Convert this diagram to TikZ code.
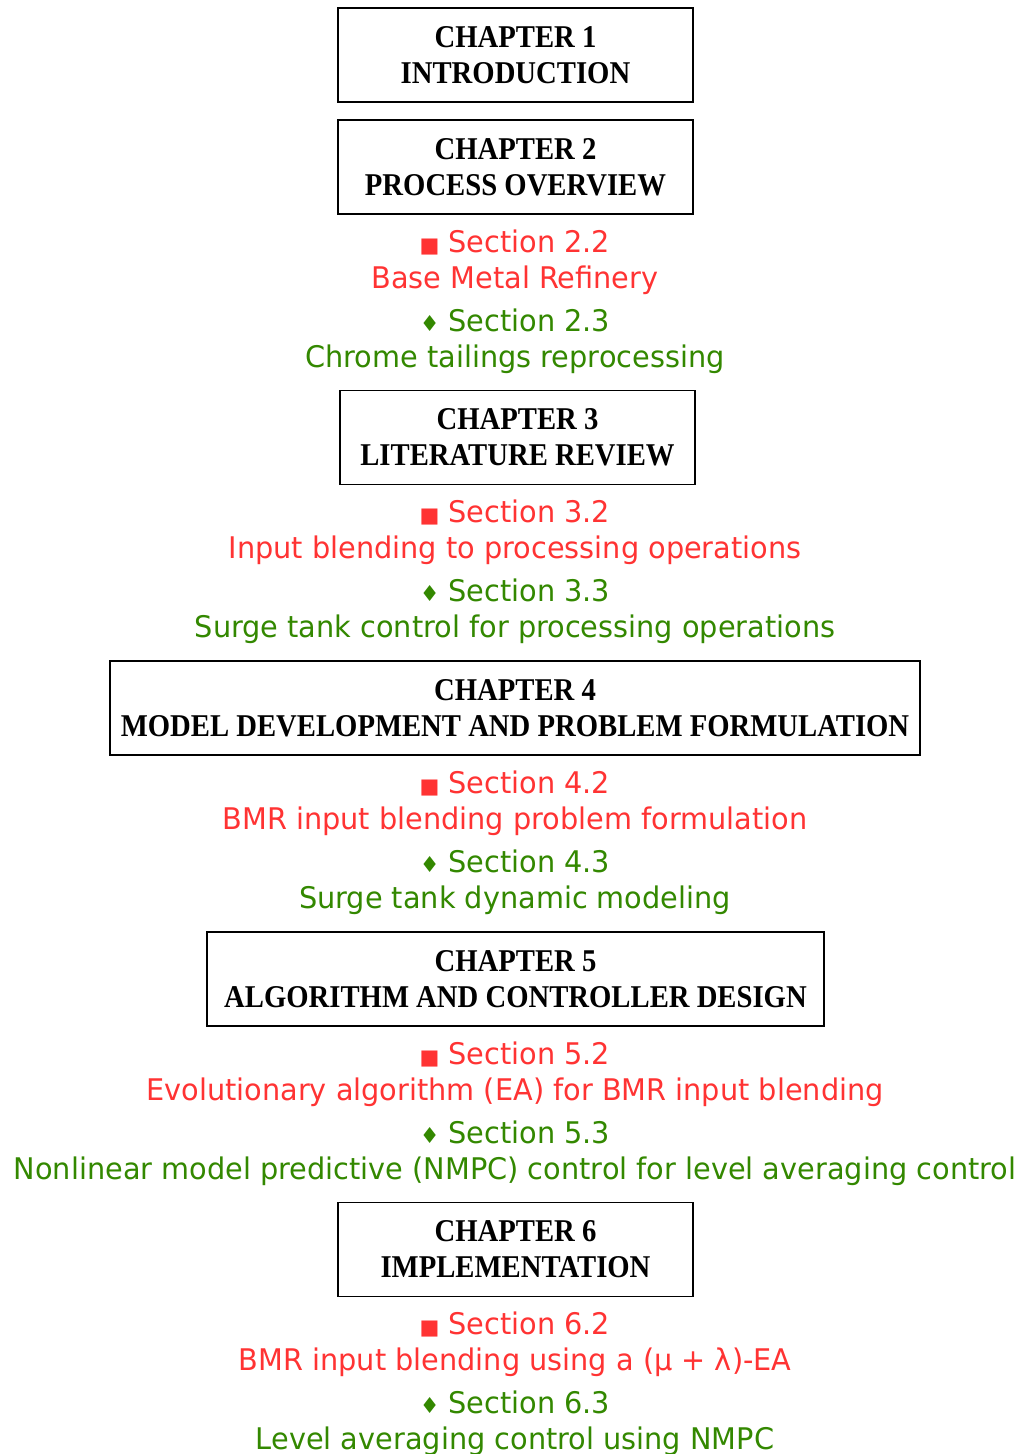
\documentclass[tikz,border=0pt]{standalone}
\usepackage{fontspec}
\newfontfamily\chapfont[FakeStretch=0.905]{Liberation Serif}
\newfontfamily\secfont[FakeStretch=0.965]{DejaVu Sans}
\newfontfamily\markfont{DejaVu Sans}
\definecolor{secred}{RGB}{255,51,51}
\definecolor{secgreen}{RGB}{51,136,0}
\tikzset{
  chapbox/.style={draw, line width=1.3pt, minimum height=94pt, align=center,
    inner sep=0pt, font=\chapfont\fontsize{31.7}{36}\selectfont\bfseries},
  redsec/.style={align=center, inner sep=0pt, text=secred,
    font=\secfont\fontsize{29.8}{36}\selectfont},
  greensec/.style={align=center, inner sep=0pt, text=secgreen,
    font=\secfont\fontsize{29.8}{36}\selectfont},
}
\newcommand{\redmark}{{\markfont\fontsize{21}{21}\selectfont■}\hspace{9pt}}
\newcommand{\greenmark}{{\markfont\fontsize{22}{22}\selectfont♦}\hspace{9pt}}
\begin{document}
\begin{tikzpicture}[x=1pt,y=-1pt]
\useasboundingbox (0,0) rectangle (1019,1454);

% chapter boxes
\node[chapbox, minimum width=355pt] (ch1) at (515.5,55) {CHAPTER 1\\INTRODUCTION};
\node[chapbox, minimum width=355pt] (ch2) at (515.5,167) {CHAPTER 2\\PROCESS OVERVIEW};
\node[chapbox, minimum width=355pt] (ch3) at (517.5,437.5) {CHAPTER 3\\LITERATURE REVIEW};
\node[chapbox, minimum width=810pt] (ch4) at (515,708) {CHAPTER 4\\MODEL DEVELOPMENT AND PROBLEM FORMULATION};
\node[chapbox, minimum width=617pt] (ch5) at (515.5,979) {CHAPTER 5\\ALGORITHM AND CONTROLLER DESIGN};
\node[chapbox, minimum width=355pt] (ch6) at (515.5,1249.5) {CHAPTER 6\\IMPLEMENTATION};

% section notes
\node[redsec]   (s22) at (515,262.5)  {\redmark Section 2.2\\Base Metal Refinery};
\node[greensec] (s23) at (515,341.5)  {\greenmark Section 2.3\\Chrome tailings reprocessing};
\node[redsec]   (s32) at (515,532.5)  {\redmark Section 3.2\\Input blending to processing operations};
\node[greensec] (s33) at (515,611.5)  {\greenmark Section 3.3\\Surge tank control for processing operations};
\node[redsec]   (s42) at (515,803.5)  {\redmark Section 4.2\\BMR input blending problem formulation};
\node[greensec] (s43) at (515,882.5)  {\greenmark Section 4.3\\Surge tank dynamic modeling};
\node[redsec]   (s52) at (515,1074.5) {\redmark Section 5.2\\Evolutionary algorithm (EA) for BMR input blending};
\node[greensec] (s53) at (515,1153.5) {\greenmark Section 5.3\\Nonlinear model predictive (NMPC) control for level averaging control};
\node[redsec]   (s62) at (515,1344.5) {\redmark Section 6.2\\BMR input blending using a (μ + λ)-EA};
\node[greensec] (s63) at (515,1423.5) {\greenmark Section 6.3\\Level averaging control using NMPC};
\end{tikzpicture}
\end{document}
